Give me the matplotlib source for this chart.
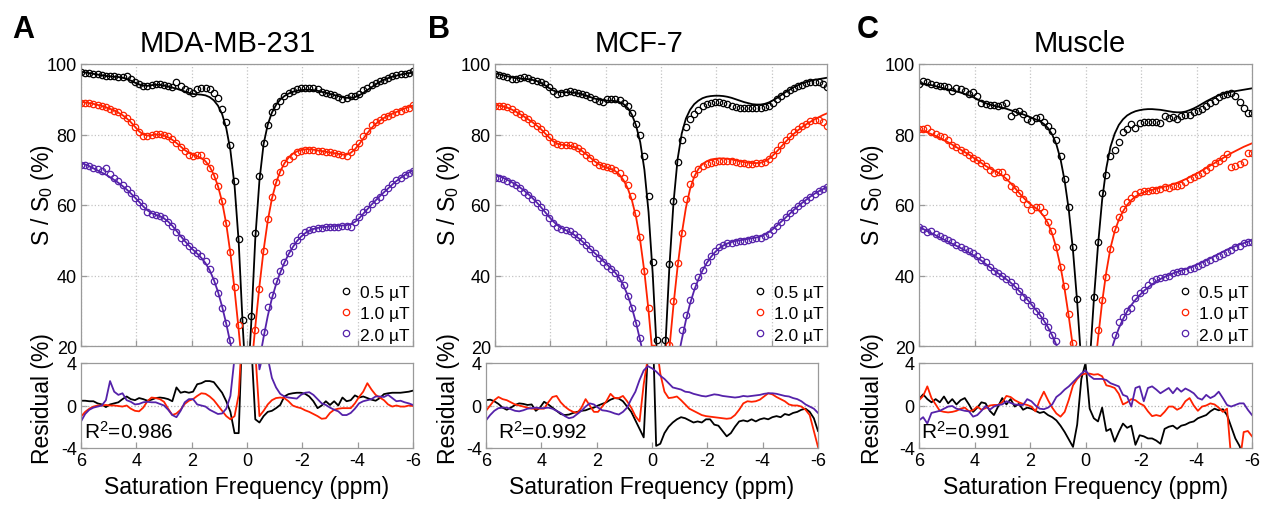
# Z-spectra (top) and fit residuals (bottom) for three tissues at three B1 levels

import numpy as np
import matplotlib
matplotlib.use('Agg')
import matplotlib.pyplot as plt

plt.rcParams['font.family'] = ['Liberation Sans', 'DejaVu Sans']
plt.rcParams['mathtext.fontset'] = 'custom'
plt.rcParams['mathtext.rm'] = 'Liberation Sans'
plt.rcParams['mathtext.it'] = 'Liberation Sans:italic'
plt.rcParams['axes.unicode_minus'] = False

# Saturation offsets (ppm), 0.15 ppm steps from 6 to -6
offsets = np.linspace(6, -6, 81)
b1_labels = ['0.5 \u00b5T', '1.0 \u00b5T', '2.0 \u00b5T']
b1_colors = ['#000000', '#ff2200', '#5522aa']

# ---- A: MDA-MB-231 ----
A_black_data = [97.6, 97.5, 97.4, 97.3, 97.1, 96.8, 96.6, 96.5, 96.6, 96.4,
                96.3, 96.5, 95.8, 95.0, 94.3, 93.8, 93.7, 94.1, 94.3, 94.3,
                94.0, 93.9, 93.4, 95.0, 93.9, 93.0, 92.3, 91.8, 92.9, 93.3,
                93.2, 92.9, 91.8, 90.3, 87.2, 83.6, 77.1, 66.9, 50.4, 27.5,
                12.0,
                28.6, 52.0, 68.3, 77.6, 82.8, 86.3, 88.0, 89.6, 90.9, 91.8,
                92.4, 92.8, 93.1, 93.3, 93.3, 93.3, 92.8, 92.0, 91.7, 91.5,
                91.2, 90.5, 90.0, 90.3, 90.8, 90.8, 91.6, 92.5, 93.3, 94.0,
                94.6, 95.2, 95.6, 96.1, 96.5, 96.8, 97.1, 97.3, 97.4, 98.0]
A_black_fit = [97.8, 97.6, 97.4, 97.2, 97.0, 96.8, 96.6, 96.5, 96.4, 96.3,
               96.1, 95.8, 95.3, 94.7, 94.2, 93.9, 93.8, 94.0, 94.1, 94.1,
               93.9, 93.6, 93.3, 93.0, 92.6, 92.2, 91.8, 91.5, 91.4, 91.3,
               91.1, 90.6, 89.7, 88.2, 85.8, 81.8, 75.5, 65.5, 49.5, 25.0,
               5.0,
               26.0, 50.5, 67.0, 77.3, 82.8, 86.2, 88.4, 89.9, 90.9, 91.6,
               92.1, 92.4, 92.6, 92.7, 92.7, 92.6, 92.4, 92.1, 91.8, 91.5,
               91.2, 90.9, 90.6, 90.4, 90.4, 90.6, 91.1, 91.8, 92.6, 93.4,
               94.2, 94.9, 95.5, 96.0, 96.4, 96.7, 97.0, 97.2, 97.4, 97.6]
A_red_data = [88.9, 89.0, 88.9, 88.7, 88.5, 88.2, 87.8, 87.3, 86.8, 86.3,
              85.4, 84.7, 83.5, 82.1, 80.6, 79.5, 79.6, 79.9, 80.1, 80.1,
              79.9, 79.5, 78.7, 77.6, 76.4, 75.2, 74.3, 73.8, 74.2, 74.1,
              72.6, 70.5, 68.3, 65.5, 61.2, 54.8, 46.6, 36.6, 26.0, 15.0,
              5.0,
              16.0, 24.6, 36.2, 47.0, 56.0, 62.4, 66.4, 69.3, 71.8, 73.0,
              74.0, 74.9, 75.4, 75.7, 75.7, 75.6, 75.4, 75.4, 75.1, 74.9,
              74.8, 74.5, 74.2, 74.0, 74.9, 76.4, 77.6, 79.7, 81.1, 82.7,
              83.5, 84.2, 84.9, 85.3, 85.8, 86.3, 86.8, 87.2, 87.6, 88.4]
A_red_fit = [89.2, 89.1, 88.9, 88.7, 88.4, 88.1, 87.7, 87.3, 86.8, 86.2,
             85.5, 84.6, 83.5, 82.2, 80.9, 80.0, 79.7, 79.8, 80.0, 80.0,
             79.7, 79.2, 78.5, 77.6, 76.6, 75.6, 74.8, 74.2, 73.8, 73.3,
             72.4, 70.9, 68.6, 65.4, 60.9, 54.6, 46.3, 36.0, 24.5, 12.0,
             4.0,
             13.0, 25.5, 37.0, 47.2, 55.5, 61.8, 66.3, 69.5, 71.8, 73.4,
             74.5, 75.2, 75.6, 75.8, 75.8, 75.7, 75.5, 75.3, 75.1, 74.9,
             74.7, 74.5, 74.3, 74.3, 74.8, 75.8, 77.2, 78.8, 80.4, 81.8,
             83.0, 83.9, 84.7, 85.3, 85.9, 86.4, 86.9, 87.4, 87.8, 88.2]
A_purple_data = [71.4, 71.3, 71.0, 70.6, 70.1, 69.6, 70.6, 68.8, 67.8, 66.8,
                 65.7, 64.5, 63.3, 62.0, 60.8, 59.6, 58.1, 57.4, 57.2, 56.8,
                 56.2, 55.3, 54.1, 52.3, 50.7, 49.5, 48.3, 47.3, 46.5, 45.6,
                 44.2, 41.8, 38.5, 34.9, 30.7, 26.4, 21.8, 16.0, 10.0, 5.0,
                 2.0,
                 5.0, 10.0, 16.0, 24.0, 31.0, 34.5, 38.5, 41.3, 43.8, 46.3,
                 48.3, 50.0, 51.3, 52.3, 53.0, 53.3, 53.5, 53.6, 53.7, 53.8,
                 53.8, 53.9, 54.0, 54.0, 53.8, 55.1, 56.5, 57.9, 59.0, 60.2,
                 61.3, 62.4, 63.6, 64.8, 66.0, 67.0, 67.8, 68.5, 69.1, 69.7]
A_purple_fit = [72.0, 71.5, 71.0, 70.4, 69.8, 69.2, 68.6, 67.9, 67.1, 66.3,
                65.4, 64.4, 63.3, 62.1, 60.9, 59.6, 58.5, 57.7, 57.2, 56.8,
                56.2, 55.3, 54.1, 52.7, 51.2, 49.8, 48.5, 47.3, 46.2, 45.0,
                43.5, 41.5, 38.8, 35.4, 31.2, 26.3, 20.8, 14.8, 8.5, 3.5,
                1.0,
                4.0, 9.5, 16.0, 22.5, 28.5, 33.5, 37.5, 40.8, 43.6, 46.0,
                48.0, 49.7, 51.0, 52.0, 52.7, 53.2, 53.5, 53.7, 53.8, 53.9,
                54.0, 54.1, 54.2, 54.3, 54.6, 55.2, 56.2, 57.5, 58.8, 60.1,
                61.3, 62.5, 63.6, 64.7, 65.8, 66.8, 67.7, 68.5, 69.2, 69.8]
A_black_res = [0.45, 0.45, 0.4, 0.4, 0.2, 0.1, -0.15, 0.1, 0.2, 0.3,
               0.6, 0.85, 0.6, 0.5, 0.7, 0.6, 0.45, 0.55, 0.7, 0.75,
               0.7, 0.6, 0.4, 1.7, 1.2, 1.3, 1.2, 1.3, 2.0, 2.1,
               2.3, 2.3, 2.2, 1.7, 1.2, 0.4, -0.6, -2.6, -2.6, 9.0,
               12.0,
               6.0, -1.3, -1.6, -1.0, -0.6, -0.5, -0.25, 0.05, 0.85, 1.07,
               1.15, 1.2, 1.2, 1.1, 0.85, 0.4, -0.25, 0.0, 0.4, 0.05,
               0.4, 0.0, 0.75, 0.4, 0.5, 0.95, 0.75, 0.85, 0.7, 0.55,
               0.45, 0.7, 1.07, 1.15, 1.2, 1.2, 1.2, 1.25, 1.3, 1.4]
A_red_res = [-1.05, -0.6, -0.3, -0.1, 0.0, 0.0, 0.05, 0.0, 0.0, -0.05,
             -0.1, 0.0, -0.3, -0.5, -0.55, -0.2, 0.4, 0.75, 0.7, 0.6,
             0.35, -0.3, -0.9, -0.75, -0.4, 0.15, 0.45, 0.6, 0.9, 1.15,
             1.1, 0.85, 0.5, 0.0, -0.5, -1.0, -1.3, -1.0, 1.0, 8.0,
             12.0,
             9.0, 5.0, -1.0, -0.5, 0.1, 0.5, 0.7, 0.75, 0.7, 0.4,
             0.0, -0.15, -0.25, -0.45, -0.6, -0.8, -1.0, -1.25, -1.2, -0.7,
             -0.4, -0.3, -0.25, -0.25, -0.25, 0.2, 0.8, 1.3, 2.1, 1.5,
             1.0, 0.75, 0.5, 0.1, -0.1, 0.0, -0.1, -0.1, 0.0, -0.05]
A_purple_res = [-1.5, -0.8, -0.4, -0.2, -0.1, 0.0, 0.5, 2.3, 1.3, 1.0,
                1.15, 0.5, 0.35, 0.1, 0.15, 0.3, 0.35, 0.3, 0.3, 0.15,
                0.0, -0.4, -0.9, -1.1, -0.5, 0.3, 0.6, 0.6, 0.1, 0.0,
                -0.1, -0.4, -0.6, -0.8, -0.75, -0.3, 0.9, 4.5, 9.0, 12.0,
                14.0,
                12.0, 8.0, 3.4, 5.0, 4.5, 2.6, 1.7, 1.1, 0.85, 0.75,
                0.7, 0.65, 1.0, 1.2, 1.25, 1.0, 0.6, 0.2, 0.05, -0.2,
                -0.4, -0.55, -0.9, -0.9, -0.7, -0.3, 0.2, 0.4, 0.5, 0.6,
                0.85, 0.85, 0.8, 1.0, 0.7, 0.4, 0.45, 0.3, 0.2, 0.05]

# ---- B: MCF-7 ----
B_black_data = [97.2, 97.0, 96.6, 96.2, 95.8, 95.8, 96.1, 96.2, 95.9, 95.6,
                95.3, 95.0, 94.4, 93.4, 92.3, 91.5, 91.8, 92.0, 92.2, 92.0,
                91.7, 91.5, 91.1, 90.6, 90.0, 89.5, 89.3, 90.0, 90.1, 90.0,
                89.7, 89.0, 88.1, 86.2, 83.0, 79.8, 74.0, 62.6, 43.9, 21.8,
                8.0,
                21.6, 43.3, 61.2, 72.1, 78.3, 82.0, 84.4, 85.8, 87.0, 88.0,
                88.6, 89.0, 89.3, 89.2, 89.0, 88.6, 88.2, 87.8, 87.5, 87.4,
                87.4, 87.4, 87.5, 87.6, 87.8, 88.1, 89.0, 90.0, 91.0, 91.8,
                92.6, 93.2, 93.7, 94.1, 94.5, 94.8, 95.0, 94.9, 94.4, 93.4]
B_black_fit = [97.4, 97.1, 96.8, 96.5, 96.2, 96.0, 95.9, 95.8, 95.7, 95.5,
               95.2, 94.7, 94.0, 93.2, 92.5, 92.1, 92.0, 92.0, 92.0, 91.9,
               91.7, 91.4, 91.0, 90.6, 90.2, 89.9, 89.7, 89.6, 89.6, 89.5,
               89.2, 88.6, 87.5, 85.6, 82.5, 77.8, 70.0, 58.0, 40.5, 18.0,
               4.0,
               18.5, 42.0, 60.5, 73.0, 80.3, 84.5, 87.0, 88.6, 89.6, 90.3,
               90.7, 90.9, 91.0, 91.0, 90.9, 90.7, 90.4, 90.0, 89.6, 89.2,
               88.9, 88.6, 88.5, 88.5, 88.7, 89.1, 89.7, 90.4, 91.2, 92.0,
               92.7, 93.4, 94.0, 94.5, 94.9, 95.2, 95.5, 95.7, 95.9, 96.1]
B_red_data = [88.0, 88.0, 88.2, 87.8, 87.2, 86.4, 85.7, 85.0, 84.3, 83.4,
              82.5, 81.6, 80.5, 79.2, 77.8, 77.2, 77.0, 77.0, 76.9, 76.6,
              76.2, 75.2, 74.2, 73.2, 72.2, 71.3, 71.1, 70.9, 70.5, 69.9,
              69.0, 67.6, 65.7, 62.5, 57.8, 51.0, 41.2, 30.7, 19.5, 8.0,
              3.0,
              8.0, 20.3, 32.9, 43.5, 52.0, 61.7, 66.0, 68.8, 70.2, 71.0,
              71.5, 71.9, 72.2, 72.4, 72.5, 72.5, 72.4, 72.2, 72.0, 71.8,
              71.7, 71.7, 71.8, 71.9, 72.3, 73.0, 74.2, 75.6, 77.0, 78.3,
              79.5, 80.6, 81.5, 82.3, 83.1, 83.8, 84.2, 84.2, 83.5, 82.3]
B_red_fit = [88.3, 88.2, 88.0, 87.6, 87.1, 86.5, 85.8, 85.1, 84.3, 83.5,
             82.6, 81.6, 80.4, 79.2, 78.1, 77.4, 77.1, 77.0, 76.8, 76.5,
             76.0, 75.3, 74.4, 73.4, 72.4, 71.6, 71.0, 70.6, 70.2, 69.6,
             68.6, 67.0, 64.7, 61.3, 56.5, 49.8, 41.0, 30.0, 17.0, 5.0,
             2.0,
             6.0, 19.0, 31.5, 42.5, 51.8, 59.2, 64.5, 68.0, 70.2, 71.6,
             72.4, 72.9, 73.1, 73.2, 73.2, 73.1, 72.9, 72.7, 72.4, 72.2,
             72.0, 71.9, 71.9, 72.0, 72.4, 73.1, 74.1, 75.3, 76.6, 77.9,
             79.1, 80.2, 81.2, 82.1, 82.9, 83.6, 84.3, 84.9, 85.5, 86.0]
B_purple_data = [67.8, 67.6, 67.4, 66.9, 66.3, 65.6, 64.8, 63.8, 62.8, 61.8,
                 60.6, 59.4, 57.9, 56.3, 54.9, 53.9, 53.2, 52.9, 52.5, 51.8,
                 50.9, 49.7, 48.6, 47.4, 46.3, 45.0, 43.8, 42.7, 41.8, 40.7,
                 39.3, 37.2, 34.3, 30.7, 26.4, 22.3, 17.0, 11.0, 6.0, 3.0,
                 1.0,
                 2.0, 5.0, 10.0, 17.0, 24.6, 28.8, 33.1, 36.9, 39.5, 41.6,
                 43.8, 45.4, 46.9, 48.0, 48.7, 49.1, 49.3, 49.5, 49.7, 49.9,
                 50.1, 50.3, 50.5, 50.7, 51.1, 51.9, 52.9, 54.0, 55.3, 56.5,
                 57.7, 58.7, 59.7, 60.7, 61.5, 62.3, 63.1, 63.9, 64.5, 65.0]
B_purple_fit = [68.8, 68.2, 67.7, 67.1, 66.5, 65.8, 65.0, 64.1, 63.1, 62.0,
                60.8, 59.5, 58.1, 56.7, 55.4, 54.3, 53.5, 52.9, 52.3, 51.6,
                50.7, 49.7, 48.6, 47.5, 46.4, 45.3, 44.2, 43.1, 42.0, 40.8,
                39.2, 37.1, 34.3, 30.8, 26.5, 21.5, 16.0, 10.5, 6.0, 3.0,
                1.5,
                3.0, 6.0, 10.5, 16.0, 21.8, 27.3, 32.0, 35.8, 38.9, 41.4,
                43.5, 45.2, 46.6, 47.7, 48.5, 49.1, 49.5, 49.8, 50.0, 50.2,
                50.4, 50.6, 50.8, 51.1, 51.6, 52.3, 53.2, 54.2, 55.3, 56.4,
                57.5, 58.6, 59.6, 60.6, 61.5, 62.4, 63.2, 63.9, 64.5, 65.1]
B_black_res = [0.5, 0.55, 0.4, 0.15, -0.2, -0.4, -0.2, 0.05, 0.2, 0.15,
               0.05, 0.1, -0.5, -0.2, 0.35, 0.1, -0.2, -0.5, -0.8, -0.9,
               -0.85, -0.7, -0.6, -0.5, -0.45, -0.3, -0.2, 0.0, 0.15, 0.3,
               0.55, 0.7, 0.65, 0.4, -0.1, -0.6, -1.4, -2.2, -3.0, 5.0,
               10.0,
               -3.8, -3.6, -2.6, -2.0, -1.6, -1.3, -1.1, -1.2, -1.4, -1.6,
               -1.5, -1.6, -1.3, -1.3, -1.8, -1.9, -2.4, -2.9, -2.6, -2.0,
               -1.5, -1.4, -1.5, -1.3, -1.5, -1.3, -1.2, -1.3, -1.1, -1.0,
               -1.1, -0.8, -0.9, -0.7, -0.6, -0.4, -0.3, -0.6, -1.2, -2.4]
B_red_res = [-0.5, 0.0, 0.5, 0.8, 0.6, 0.5, 0.3, 0.1, 0.0, -0.1,
             -0.2, -0.3, -0.3, -0.3, -0.3, 0.3, 0.8, 0.9, 0.3, -0.1,
             -0.4, -0.6, -0.7, -0.2, 0.6, 0.0, -0.6, -0.6, -0.1, 0.4,
             1.1, 0.7, 0.7, 0.9, 0.4, -0.2, -1.0, -1.5, 2.0, 4.5,
             9.0,
             6.0, 3.0, 1.3, 0.7, 0.75, 0.85, 0.5, 0.1, -0.3, -0.5,
             -0.7, -0.9, -1.0, -1.05, -1.1, -1.15, -1.2, -1.25, -1.2, -0.9,
             -0.4, 0.2, 0.4, 0.35, 0.4, 0.55, 0.85, 1.15, 1.05, 0.8,
             0.6, 0.4, 0.1, 0.0, 0.0, -0.1, -0.4, -0.9, -2.4, -3.9]
B_purple_res = [-1.4, -0.9, -0.5, -0.25, -0.2, -0.2, -0.35, -0.5, -0.55, -0.45,
                -0.3, -0.25, -0.2, -0.25, -0.25, -0.2, -0.3, -0.5, -0.7, -1.0,
                -1.2, -1.1, -0.8, -0.5, -0.1, 0.2, 0.1, -0.2, -0.45, -0.5,
                -0.6, -0.75, -0.85, -0.6, -0.2, 0.6, 1.3, 2.4, 3.3, 3.7,
                3.5,
                3.2, 2.8, 2.5, 2.1, 1.7, 1.6, 1.5, 1.3, 1.25, 1.1,
                1.0, 0.9, 0.85, 0.95, 1.05, 1.0, 0.9, 0.85, 0.8, 0.75,
                0.8, 0.9, 0.85, 0.9, 0.95, 1.0, 1.1, 1.15, 1.15, 1.1,
                1.0, 0.9, 0.85, 0.7, 0.6, 0.4, 0.1, -0.1, -0.3, -0.7]

# ---- C: Muscle ----
C_black_data = [94.3, 95.3, 94.9, 94.4, 94.1, 93.8, 93.7, 93.5, 92.3, 93.1,
                92.8, 92.2, 91.5, 92.0, 91.0, 88.9, 88.7, 88.5, 88.3, 88.2,
                88.4, 88.9, 85.2, 86.3, 86.8, 85.8, 84.5, 83.8, 84.6, 85.0,
                83.6, 82.5, 81.0, 78.5, 74.0, 67.5, 59.5, 48.0, 33.2, 15.0,
                5.0,
                15.0, 33.8, 49.6, 63.5, 68.5, 74.0, 75.5, 78.0, 80.6, 81.6,
                83.0, 81.8, 83.3, 83.6, 83.6, 83.6, 83.5, 83.4, 85.3, 84.7,
                84.9, 84.4, 85.3, 85.4, 85.6, 86.3, 86.8, 87.3, 88.0, 88.8,
                89.6, 90.5, 91.1, 91.5, 91.8, 91.0, 89.3, 87.6, 86.1, 86.1]
C_black_fit = [94.5, 94.4, 94.2, 94.0, 93.7, 93.4, 93.1, 92.8, 92.5, 92.2,
               91.9, 91.5, 91.1, 90.6, 90.0, 89.4, 88.9, 88.5, 88.2, 87.9,
               87.6, 87.3, 86.9, 86.5, 86.1, 85.7, 85.3, 84.8, 84.3, 83.8,
               83.0, 81.8, 80.0, 77.2, 73.0, 66.8, 58.5, 47.0, 32.5, 15.0,
               5.0,
               15.0, 33.0, 48.5, 61.5, 70.5, 76.5, 80.2, 82.7, 84.3, 85.4,
               86.1, 86.6, 86.9, 87.1, 87.2, 87.2, 87.1, 87.0, 86.8, 86.6,
               86.4, 86.3, 86.3, 86.5, 86.9, 87.4, 88.0, 88.7, 89.4, 90.0,
               90.6, 91.1, 91.5, 91.8, 92.1, 92.3, 92.5, 92.7, 92.9, 93.1]
C_red_data = [81.6, 81.5, 81.9, 80.8, 80.2, 79.7, 79.3, 78.5, 77.0, 76.4,
              75.5, 74.9, 74.2, 73.3, 72.8, 72.0, 71.2, 70.0, 69.0, 69.5,
              69.4, 68.0, 65.5, 64.5, 63.3, 61.7, 60.3, 58.6, 59.3, 59.3,
              58.0, 55.1, 52.5, 48.0, 42.3, 36.9, 29.1, 20.9, 12.0, 6.0,
              2.0,
              3.0, 12.0, 24.6, 33.1, 39.5, 47.5, 53.2, 56.5, 59.0, 60.8,
              62.0, 63.1, 63.8, 64.0, 64.1, 64.2, 64.3, 64.4, 65.0, 64.9,
              65.3, 65.5, 65.8, 66.4, 67.3, 68.0, 68.6, 69.2, 70.0, 70.9,
              71.8, 72.5, 73.2, 74.4, 70.7, 71.0, 71.6, 72.2, 74.8, 74.8]
C_red_fit = [81.4, 81.0, 80.6, 80.1, 79.6, 79.0, 78.4, 77.8, 77.1, 76.4,
             75.7, 75.0, 74.3, 73.5, 72.7, 71.9, 71.1, 70.4, 69.8, 69.2,
             68.4, 67.4, 66.2, 64.9, 63.5, 62.2, 61.0, 60.0, 59.2, 58.2,
             56.8, 54.8, 51.8, 47.8, 42.5, 36.0, 28.2, 19.5, 10.5, 4.0,
             1.5,
             4.0, 11.0, 22.0, 32.5, 41.0, 47.8, 52.5, 55.8, 58.2, 60.0,
             61.4, 62.4, 63.1, 63.6, 64.0, 64.3, 64.6, 64.9, 65.2, 65.5,
             65.9, 66.3, 66.8, 67.3, 67.9, 68.5, 69.1, 69.8, 70.5, 71.2,
             71.9, 72.6, 73.3, 74.0, 74.7, 75.3, 75.9, 76.5, 77.0, 77.5]
C_purple_data = [53.7, 53.3, 52.3, 52.5, 51.9, 51.2, 50.6, 50.0, 49.5, 48.7,
                 48.1, 47.4, 47.0, 46.3, 45.4, 44.5, 43.7, 42.5, 41.3, 40.6,
                 39.9, 39.1, 38.2, 36.9, 35.5, 33.9, 33.0, 31.5, 29.8, 28.7,
                 27.1, 25.3, 23.2, 21.3, 17.0, 13.0, 9.0, 6.0, 3.0, 1.5,
                 1.0,
                 1.5, 3.0, 6.0, 9.0, 14.0, 18.5, 23.0, 26.7, 28.3, 29.8,
                 30.8, 33.6, 35.1, 36.0, 37.3, 38.5, 38.9, 39.2, 39.7, 40.0,
                 40.6, 41.0, 41.2, 41.4, 41.8, 42.2, 42.6, 43.2, 43.8, 44.3,
                 44.9, 45.6, 46.2, 46.7, 47.3, 48.0, 48.5, 49.1, 49.5, 49.4]
C_purple_fit = [53.8, 53.2, 52.6, 52.0, 51.4, 50.8, 50.2, 49.6, 49.0, 48.4,
                47.8, 47.2, 46.5, 45.8, 45.0, 44.2, 43.3, 42.4, 41.5, 40.6,
                39.8, 38.9, 38.0, 36.9, 35.7, 34.5, 33.2, 31.8, 30.4, 28.9,
                27.2, 25.3, 23.0, 20.3, 17.2, 13.8, 10.2, 6.8, 3.8, 1.8,
                1.0,
                1.8, 3.8, 6.8, 10.2, 14.0, 18.0, 21.8, 25.0, 27.6, 29.8,
                31.6, 33.1, 34.4, 35.6, 36.6, 37.5, 38.3, 39.0, 39.6, 40.1,
                40.6, 41.0, 41.4, 41.8, 42.2, 42.7, 43.2, 43.7, 44.3, 44.9,
                45.5, 46.1, 46.7, 47.3, 47.8, 48.3, 48.8, 49.2, 49.6, 50.0]
C_black_res = [0.6, 1.05, 0.6, 0.3, 0.6, 0.3, 0.85, 0.2, 0.6, 0.1,
               0.5, 0.7, 0.1, -0.6, -0.2, 0.3, 0.2, -0.5, -0.9, -0.1,
               0.7, 0.1, 0.6, -0.1, 0.15, -0.4, -0.2, -0.3, -0.5, -0.7,
               -0.6, -0.9, -1.1, -1.4, -1.9, -2.5, -3.2, -3.9, -1.8, 2.5,
               4.0,
               -0.3, -1.2, -1.5, -0.2, -2.4, -2.2, -3.4, -2.5, -1.7, -2.1,
               -1.9, -3.7, -2.8, -2.9, -3.1, -3.1, -3.3, -3.6, -2.2, -2.0,
               -1.9, -2.2, -1.9, -1.8, -1.6, -1.5, -1.2, -1.05, -0.9, -0.55,
               -0.3, -0.45, -0.35, -0.9, -2.0, -3.1, -3.8, -5.0, -6.0, -7.0]
C_red_res = [0.5, 0.9, 1.8, 0.7, 0.1, -0.5, -0.6, -0.65, -0.6, -0.5,
             -0.3, -0.2, -0.55, -0.45, -0.1, -0.4, -0.25, 0.0, 0.05, 0.05,
             0.3, 0.9, 0.8, 0.5, 0.3, 0.15, 0.05, -0.1, -0.55, 0.5,
             1.3, 0.5, -0.2, -0.75, -1.05, -0.6, 0.55, 1.9, 2.5, 2.9,
             3.0,
             3.0, 2.9, 2.95, 2.75, 1.9, 1.8, 1.65, 1.1, 0.1, 0.3,
             0.6, 0.5, 0.2, 0.0, -0.55, -1.0, -0.9, -1.0, -0.6, -0.1,
             -0.1, -0.4, -0.2, 0.4, 0.7, 0.0, -0.5, -0.1, 0.0, 0.2,
             0.1, -0.2, -0.6, -0.3, -5.0, -6.0, -5.5, -2.5, -2.4, -2.9]
C_purple_res = [-1.4, -1.1, -1.7, -0.7, -0.6, -0.5, -0.3, -0.1, -0.05, -0.3,
                -0.4, -0.5, -0.55, -1.05, -0.9, -0.5, -0.05, -0.4, -0.1, 0.05,
                0.1, 0.4, 0.25, 0.1, 0.05, 0.05, 0.6, 0.4, 0.0, -0.3,
                -0.35, -0.2, 0.1, 0.8, 1.1, 1.5, 1.8, 2.2, 2.6, 3.0,
                3.3,
                2.8, 2.5, 2.5, 2.5, 2.4, 2.1, 1.95, 1.8, 1.0, 0.85,
                -0.1, 1.65, 1.8, 0.4, 1.65, 1.8, 1.5, 1.15, 1.4, 1.65,
                1.15, 1.65, 1.3, 1.6, 1.4, 1.15, 0.7, 0.55, 1.0, 0.7,
                0.9, 1.3, 0.7, 0.05, -0.1, 0.05, 0.2, 0.2, -0.4, -0.9]

# Panel setup (pixel positions in a 1261x506 canvas)
W, H = 1261.0, 506.0
panels = [
    dict(letter='A', title='MDA-MB-231', r2='0.986',
         data=[A_black_data, A_red_data, A_purple_data],
         fit=[A_black_fit, A_red_fit, A_purple_fit],
         res=[A_black_res, A_red_res, A_purple_res],
         top_x=81, res_x=81, w=332, letter_x=12, title_x=228, ylab_x=42, r2_x=84),
    dict(letter='B', title='MCF-7', r2='0.992',
         data=[B_black_data, B_red_data, B_purple_data],
         fit=[B_black_fit, B_red_fit, B_purple_fit],
         res=[B_black_res, B_red_res, B_purple_res],
         top_x=495, res_x=486, w=332, letter_x=428, title_x=639, ylab_x=448, r2_x=498),
    dict(letter='C', title='Muscle', r2='0.991',
         data=[C_black_data, C_red_data, C_purple_data],
         fit=[C_black_fit, C_red_fit, C_purple_fit],
         res=[C_black_res, C_red_res, C_purple_res],
         top_x=919, res_x=919, w=333, letter_x=857, title_x=1080, ylab_x=873, r2_x=921),
]

fig = plt.figure(figsize=(12.61, 5.06), dpi=100, facecolor='white')
frame_col = '#9a9a9a'

def style(ax):
    for s in ax.spines.values():
        s.set_color(frame_col)
        s.set_linewidth(0.9)
    ax.tick_params(direction='in', color=frame_col, length=4, width=0.9,
                   labelsize=13, pad=3)
    ax.set_xlim(6, -6)
    ax.set_xticks([6, 4, 2, 0, -2, -4, -6])

for p in panels:
    ax = fig.add_axes([p['top_x']/W, 1-347/H, p['w']/W, 282/H])
    rx = fig.add_axes([p['res_x']/W, 1-449/H, p['w']/W, 85/H])
    style(ax)
    style(rx)

    # Z-spectra: fit lines and measured points
    handles = []
    for k in range(3):
        ax.plot(offsets, p['fit'][k], color=b1_colors[k], lw=1.3)
        h, = ax.plot(offsets, p['data'][k], 'o', mfc='none', mec=b1_colors[k],
                     ms=4.6, mew=0.9, label=b1_labels[k])
        handles.append(h)
    ax.set_ylim(20, 100)
    ax.set_yticks([20, 40, 60, 80, 100])
    ax.set_xticklabels([])
    ax.grid(True, color='#c4c4c4', linestyle=':', linewidth=0.9)
    ax.legend(handles=handles, loc='lower right', frameon=False, fontsize=12.5,
              handlelength=0.6, handletextpad=0.5, labelspacing=0.35,
              borderpad=0.2, borderaxespad=0.0)

    # Residuals
    rx.axhline(0, color='#b0b0b0', linestyle=':', linewidth=0.9)
    for k in range(3):
        rx.plot(offsets, p['res'][k], color=b1_colors[k], lw=1.3)
    rx.set_ylim(-4, 4)
    rx.set_yticks([-4, 0, 4])
    fig.text(p['r2_x']/W, 1-439/H, 'R$^2$=' + p['r2'], fontsize=15,
             ha='left', va='baseline')

    # Labels
    fig.text(p['letter_x']/W, 1-38/H, p['letter'], fontsize=22,
             fontweight='bold', ha='left', va='baseline')
    fig.text(p['title_x']/W, 1-52/H, p['title'], fontsize=21,
             ha='center', va='baseline')
    fig.text(p['ylab_x']/W, 1-195/H, 'S / S$_0$ (%)', fontsize=16.5,
             rotation=90, ha='center', va='center')
    fig.text(p['ylab_x']/W, 1-399/H, 'Residual (%)', fontsize=16.5,
             rotation=90, ha='center', va='center')
    fig.text((p['res_x'] + p['w']/2)/W, 1-488/H, 'Saturation Frequency (ppm)',
             fontsize=16.5, ha='center', va='center')

fig.savefig('out.png', dpi=100, facecolor='white')
